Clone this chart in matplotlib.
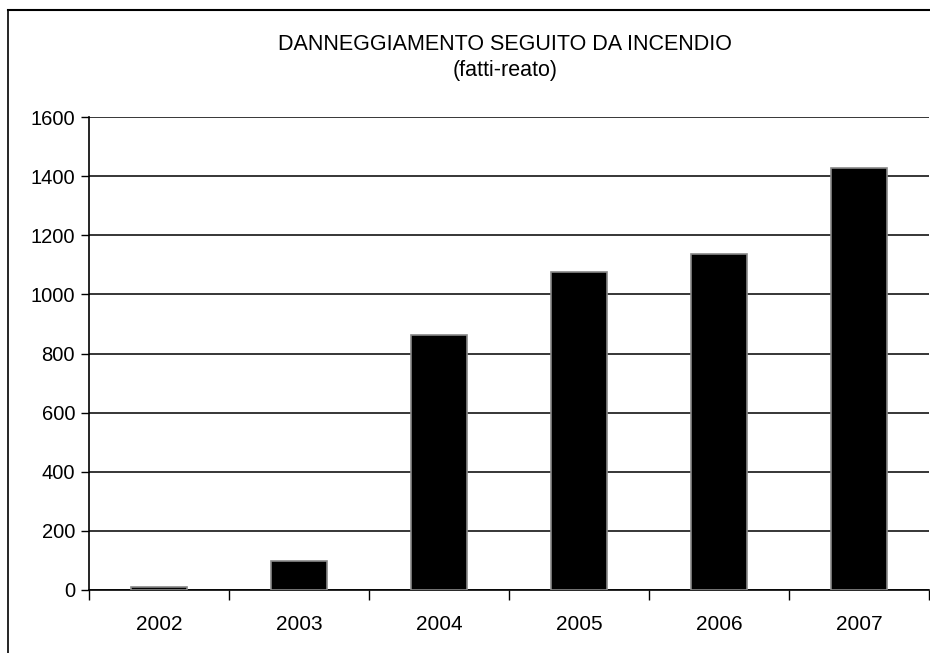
import matplotlib.pyplot as plt
import numpy as np
from matplotlib.lines import Line2D

anni = ["2002", "2003", "2004", "2005", "2006", "2007"]
fatti = [10, 98, 863, 1076, 1137, 1428]

plt.rcParams["font.family"] = ["Liberation Sans", "DejaVu Sans"]

fig = plt.figure(figsize=(9.3, 6.53), dpi=100)
ax = fig.add_axes([0.0957, 0.0965, 0.9033, 0.7243])

x = np.arange(len(anni))
ax.bar(x, fatti, width=0.4, color="black", edgecolor="#888888", linewidth=1.2, zorder=3)

ax.set_xlim(-0.5, len(anni) - 0.5)
ax.set_ylim(0, 1600)
ax.set_yticks(np.arange(0, 1601, 200))
ax.yaxis.grid(True, color="black", linewidth=1.1)
ax.set_axisbelow(True)

ax.set_xticks(x)
ax.set_xticklabels(anni)
ax.set_xticks(np.arange(-0.5, len(anni), 1), minor=True)
ax.tick_params(axis="x", which="major", length=0, pad=18, labelsize=15)
ax.tick_params(axis="x", which="minor", length=7, direction="out", width=1)
ax.tick_params(axis="y", length=6, direction="out", width=1, labelsize=14.5, pad=4)

for s in ["top", "right"]:
    ax.spines[s].set_visible(False)
ax.spines["left"].set_linewidth(1.2)
ax.spines["bottom"].set_linewidth(1.2)

fig.text(0.543, 0.932, "DANNEGGIAMENTO SEGUITO DA INCENDIO", ha="center", va="center", fontsize=15.5)
fig.text(0.543, 0.892, "(fatti-reato)", ha="center", va="center", fontsize=15.5)

# cornice del grafico
fig.add_artist(Line2D([8 / 930, 8 / 930], [0, 1 - 10 / 653], transform=fig.transFigure, color="black", linewidth=1.2))
fig.add_artist(Line2D([8 / 930, 1], [1 - 10 / 653, 1 - 10 / 653], transform=fig.transFigure, color="black", linewidth=1.5))

fig.savefig("out.png", dpi=100)
